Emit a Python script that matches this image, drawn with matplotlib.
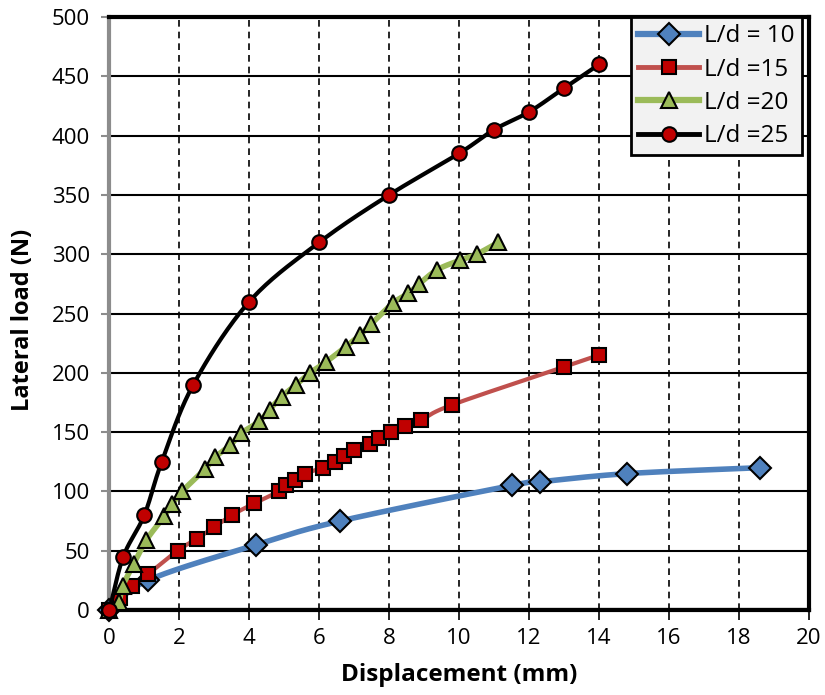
import numpy as np
import matplotlib
matplotlib.use("Agg")
import matplotlib.pyplot as plt
from matplotlib.lines import Line2D

# ---- data ----
x10 = [0, 1.1, 4.2, 6.6, 11.5, 12.3, 14.8, 18.6]
y10 = [0, 25, 55, 75, 105, 108, 115, 120]

x15 = [0, 0.3, 0.65, 1.1, 1.95, 2.5, 3.0, 3.5, 4.15, 4.85, 5.05, 5.3, 5.6, 6.1,
       6.45, 6.7, 7.0, 7.45, 7.7, 8.05, 8.45, 8.9, 9.8, 13.0, 14.0]
y15 = [0, 10, 20, 30, 50, 60, 70, 80, 90, 100, 105, 110, 115, 120,
       125, 130, 135, 140, 145, 150, 155, 160, 173, 205, 215]

x20 = [0, 0.27, 0.38, 0.7, 1.06, 1.57, 1.79, 2.08, 2.74, 3.03, 3.46, 3.77, 4.28,
       4.58, 4.93, 5.34, 5.74, 6.19, 6.76, 7.17, 7.48, 8.12, 8.55, 8.86, 9.38,
       10.03, 10.5, 11.12]
y20 = [0, 7, 20, 39, 59, 79, 89, 100, 119, 129, 139, 149, 159,
       169, 180, 190, 200, 209, 222, 232, 241, 259, 267, 275, 287,
       295, 300, 310]

x25 = [0, 0.4, 1.0, 1.5, 2.4, 4.0, 6.0, 8.0, 10.0, 11.0, 12.0, 13.0, 14.0]
y25 = [0, 45, 80, 125, 190, 260, 310, 350, 385, 405, 420, 440, 460]

labels = ["L/d = 10", "L/d =15", "L/d =20", "L/d =25"]
xticks = list(range(0, 21, 2))
yticks = list(range(0, 501, 50))

plt.rcParams['font.family'] = ['Open Sans', 'DejaVu Sans']


def smooth(xs, ys, n=20):
    """Catmull-Rom spline through the data points (pixel-proportional space)."""
    xs = np.asarray(xs, float)
    ys = np.asarray(ys, float)
    sx, sy = 35.0, 1.186
    P = np.column_stack([xs * sx, ys * sy])
    if len(P) < 3:
        return xs, ys
    P = np.vstack([P[0] - (P[1] - P[0]), P, P[-1] + (P[-1] - P[-2])])
    out = []
    for i in range(1, len(P) - 2):
        p0, p1, p2, p3 = P[i - 1], P[i], P[i + 1], P[i + 2]
        t = np.linspace(0, 1, n, endpoint=False)[:, None]
        seg = 0.5 * ((2 * p1) + (-p0 + p2) * t + (2 * p0 - 5 * p1 + 4 * p2 - p3) * t ** 2
                     + (-p0 + 3 * p1 - 3 * p2 + p3) * t ** 3)
        out.append(seg)
    out.append(P[-2][None, :])
    out = np.vstack(out)
    return out[:, 0] / sx, out[:, 1] / sy


fig = plt.figure(figsize=(8.25, 6.95), dpi=100)
ax = fig.add_axes([0.1325, 0.1223, 0.848, 0.8532])

series = [
    (x10, y10, '#4F81BD', 4.0, 'D', '#4F81BD', 11),
    (x15, y15, '#C0504D', 3.0, 's', '#C00000', 9.5),
    (x20, y20, '#9BBB59', 4.0, '^', '#9BBB59', 12),
    (x25, y25, '#000000', 3.0, 'o', '#C00000', 10.5),
]

handles = []
for i, (xs, ys, lc, lw, mk, mfc, ms) in enumerate(series):
    sxv, syv = smooth(xs, ys)
    ax.plot(sxv, syv, color=lc, lw=lw, zorder=3 + i, solid_capstyle='butt')
    ax.plot(xs, ys, ls='none', marker=mk, ms=ms, mfc=mfc, mec='black', mew=1.5,
            zorder=3 + i, clip_on=False)
    handles.append(Line2D([], [], color=lc, lw=lw + 0.5, marker=mk, ms=ms,
                          mfc=mfc, mec='black', mew=1.5))

ax.set_xlim(0, 20)
ax.set_ylim(0, 500)
ax.set_xticks(xticks)
ax.set_yticks(yticks)

# grid
for yv in yticks[1:]:
    ax.axhline(yv, color='black', lw=1.5, zorder=1)
for xv in xticks[1:-1]:
    ax.axvline(xv, color='black', lw=1.2, ls=(0, (4, 3)), zorder=1)
ax.axhline(0, color='black', lw=3, zorder=2)

for s in ['top', 'right', 'bottom']:
    ax.spines[s].set_color('black')
    ax.spines[s].set_linewidth(3)
ax.spines['left'].set_color('#8c8c8c')
ax.spines['left'].set_linewidth(3)

ax.tick_params(axis='y', direction='out', length=6, width=1.5, color='#8c8c8c',
               labelsize=16, pad=8)
ax.tick_params(axis='x', direction='out', length=7, width=1.2, color='black',
               labelsize=16, pad=6)

ax.set_xlabel('Displacement (mm)', fontsize=17.5, fontweight='bold')
ax.set_ylabel('Lateral load (N)', fontsize=17, fontweight='bold')
ax.xaxis.set_label_coords(0.5, -0.09)
ax.yaxis.set_label_coords(-0.106, 0.49)

leg = ax.legend(handles, labels, loc='upper right', bbox_to_anchor=(0.99, 1.0),
                fontsize=17.5, frameon=True, fancybox=False, handlelength=2.5,
                handletextpad=0.2, borderpad=0.3, labelspacing=0.38,
                borderaxespad=0.0)
leg.get_frame().set_facecolor('#f2f2f2')
leg.get_frame().set_edgecolor('black')
leg.get_frame().set_linewidth(2)
leg.get_frame().set_alpha(1)
leg.set_zorder(10)

fig.savefig('out.png', dpi=100)
